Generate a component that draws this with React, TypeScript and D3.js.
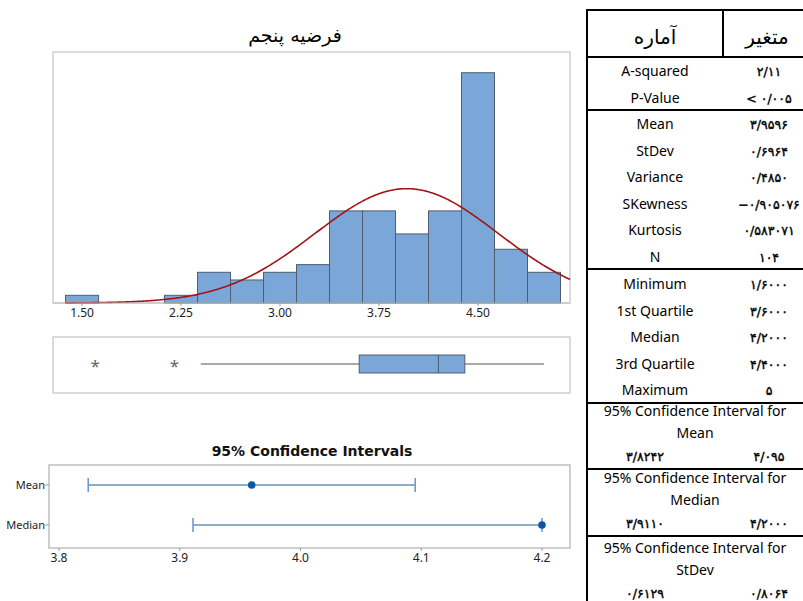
import React from 'react';
import * as d3 from 'd3';

// ---------- data ----------
const title = 'فرضیه پنجم';
const binCenters = [1.5, 1.75, 2.0, 2.25, 2.5, 2.75, 3.0, 3.25, 3.5, 3.75, 4.0, 4.25, 4.5, 4.75, 5.0];
const binCounts = [1, 0, 0, 1, 4, 3, 4, 5, 12, 12, 9, 12, 30, 7, 4];
const binWidth = 0.25;
const histTicks = [1.5, 2.25, 3.0, 3.75, 4.5];

const fitMean = 3.9596;
const fitSd = 0.6964;
const sampleN = 104;

const boxQ1 = 3.6;
const boxMedian = 4.2;
const boxQ3 = 4.4;
const whiskerLow = 2.4;
const whiskerHigh = 5.0;
const outliers = [1.6, 2.2];

const ciTitle = '95% Confidence Intervals';
const ciLabels = ['Mean', 'Median'];
const ciPoint = [3.9596, 4.2];
const ciLow = [3.8242, 3.911];
const ciHigh = [4.095, 4.2];
const ciTicks = [3.8, 3.9, 4.0, 4.1, 4.2];

const headerLeft = 'آماره';
const headerRight = 'متغیر';
const statGroups = [
  [['A-squared', '۲/۱۱'], ['P-Value', '< ۰/۰۰۵']],
  [['Mean', '۳/۹۵۹۶'], ['StDev', '۰/۶۹۶۴'], ['Variance', '۰/۴۸۵۰'], ['SKewness', '−۰/۹۰۵۰۷۶'], ['Kurtosis', '۰/۵۸۳۰۷۱'], ['N', '۱۰۴']],
  [['Minimum', '۱/۶۰۰۰'], ['1st Quartile', '۳/۶۰۰۰'], ['Median', '۴/۲۰۰۰'], ['3rd Quartile', '۴/۴۰۰۰'], ['Maximum', '۵']],
];
const ciTableTitles = ['Mean', 'Median', 'StDev'];
const ciTableLow = ['۳/۸۲۴۲', '۳/۹۱۱۰', '۰/۶۱۲۹'];
const ciTableHigh = ['۴/۰۹۵', '۴/۲۰۰۰', '۰/۸۰۶۴'];

// ---------- styles ----------
const axisFont = '"Noto Sans", "DejaVu Sans", sans-serif';
const tableFont = '"Noto Sans", "DejaVu Sans", sans-serif';
const digitFont = '"DejaVu Sans", sans-serif';
const frameColor = '#c4c4c4';
const barFill = '#7ba6d8';
const barStroke = '#4e5e70';

export default function App() {
  // histogram
  const hx = d3.scaleLinear().domain([1.28, 5.197]).range([53, 570]);
  const hy = d3.scaleLinear().domain([0, 32.7]).range([303, 52]);
  const curveXs = d3.range(1.375, 5.197, 0.01).concat([5.197]);
  const normal = (v: number) =>
    (sampleN * binWidth) / (fitSd * Math.sqrt(2 * Math.PI)) * Math.exp(-0.5 * ((v - fitMean) / fitSd) ** 2);
  const curvePath = d3
    .line<number>()
    .x((d) => hx(d))
    .y((d) => hy(normal(d)))(curveXs) as string;

  // boxplot
  const boxY = 364;
  const boxH = 18;

  // CI
  const cx = d3.scaleLinear().domain([3.8, 4.2]).range([59, 542]);
  const cy = d3.scalePoint<string>().domain(ciLabels).range([485, 525]);

  // table
  const tL = 587;
  const tR = 803;
  const tMid = 723;
  const colLeftC = (tL + tMid) / 2;
  const colRightC = 769;
  const groupStarts = [71, 124, 284];
  const step = 26.5;
  const dividers = [10, 57, 110, 269, 403, 469, 536];
  const ciBlockStarts = [411, 478, 548];

  const digitProps = {
    fontSize: 12.5,
    fontFamily: digitFont,
    fill: '#000',
    stroke: '#000',
    strokeWidth: 0.4,
    textAnchor: 'middle' as const,
  };

  return (
    <svg width={803} height={601} style={{ position: 'absolute', left: 0, top: 0, background: '#fff' }}>
      {/* ---------- title ---------- */}
      <text x={295} y={42} textAnchor="middle" fontSize={19} fontFamily={digitFont} fill="#000">
        {title}
      </text>

      {/* ---------- histogram ---------- */}
      <rect x={53} y={52} width={517} height={251} fill="none" stroke={frameColor} strokeWidth={1.2} />
      {binCenters.map((c, i) =>
        binCounts[i] > 0 ? (
          <rect
            key={i}
            x={hx(c - binWidth / 2)}
            y={hy(binCounts[i])}
            width={hx(c + binWidth / 2) - hx(c - binWidth / 2)}
            height={hy(0) - hy(binCounts[i])}
            fill={barFill}
            stroke={barStroke}
            strokeWidth={1}
          />
        ) : null
      )}
      <path d={curvePath} fill="none" stroke="#a31515" strokeWidth={1.6} />
      <line x1={53} x2={570} y1={303} y2={303} stroke={frameColor} strokeWidth={1.2} />
      {histTicks.map((t) => (
        <g key={t}>
          <line x1={hx(t)} x2={hx(t)} y1={303} y2={306} stroke="#999" />
          <text x={hx(t)} y={317} textAnchor="middle" fontSize={12} fontFamily={axisFont} fill="#222">
            {d3.format('.2f')(t)}
          </text>
        </g>
      ))}

      {/* ---------- boxplot ---------- */}
      <rect x={53} y={337} width={517} height={56} fill="none" stroke={frameColor} strokeWidth={1.2} />
      <line x1={hx(whiskerLow)} x2={hx(boxQ1)} y1={boxY} y2={boxY} stroke="#555" strokeWidth={1} />
      <line x1={hx(boxQ3)} x2={hx(whiskerHigh)} y1={boxY} y2={boxY} stroke="#555" strokeWidth={1} />
      <rect
        x={hx(boxQ1)}
        y={boxY - boxH / 2}
        width={hx(boxQ3) - hx(boxQ1)}
        height={boxH}
        fill={barFill}
        stroke={barStroke}
        strokeWidth={1}
      />
      <line x1={hx(boxMedian)} x2={hx(boxMedian)} y1={boxY - boxH / 2} y2={boxY + boxH / 2} stroke={barStroke} strokeWidth={1} />
      {outliers.map((o) => (
        <text key={o} x={hx(o)} y={boxY + 8} textAnchor="middle" fontSize={17} fontFamily={axisFont} fill="#666">
          *
        </text>
      ))}

      {/* ---------- CI plot ---------- */}
      <text x={312} y={456} textAnchor="middle" fontSize={14} fontWeight="bold" fontFamily={digitFont} fill="#111">
        {ciTitle}
      </text>
      <rect x={49} y={465} width={521} height={83} fill="none" stroke={frameColor} strokeWidth={1.6} />
      {ciLabels.map((l, i) => {
        const y = cy(l) as number;
        return (
          <g key={l}>
            <line x1={45} x2={49} y1={y} y2={y} stroke="#999" />
            <text x={45} y={y + 4} textAnchor="end" fontSize={11} fontFamily={axisFont} fill="#222">
              {l}
            </text>
            <line x1={cx(ciLow[i])} x2={cx(ciHigh[i])} y1={y} y2={y} stroke="#1f5b9e" strokeWidth={1.2} />
            <line x1={cx(ciLow[i])} x2={cx(ciLow[i])} y1={y - 7} y2={y + 7} stroke="#6a9ad6" strokeWidth={1.6} />
            <line x1={cx(ciHigh[i])} x2={cx(ciHigh[i])} y1={y - 7} y2={y + 7} stroke="#6a9ad6" strokeWidth={1.6} />
            <circle cx={cx(ciPoint[i])} cy={y} r={3.8} fill="#0b57a4" />
          </g>
        );
      })}
      {ciTicks.map((t) => (
        <g key={t}>
          <line x1={cx(t)} x2={cx(t)} y1={548} y2={551} stroke="#999" />
          <text x={cx(t)} y={562} textAnchor="middle" fontSize={12} fontFamily={axisFont} fill="#222">
            {d3.format('.1f')(t)}
          </text>
        </g>
      ))}

      {/* ---------- table ---------- */}
      <line x1={tL} x2={tL} y1={9} y2={601} stroke="#000" strokeWidth={2} />
      <line x1={tMid} x2={tMid} y1={10} y2={57} stroke="#000" strokeWidth={2} />
      {dividers.map((y) => (
        <line key={y} x1={tL - 1} x2={tR} y1={y} y2={y} stroke="#000" strokeWidth={2} />
      ))}
      <text x={colLeftC} y={44} textAnchor="middle" fontSize={20} fontFamily={digitFont} fill="#000">
        {headerLeft}
      </text>
      <text x={767} y={44} textAnchor="middle" fontSize={20} fontFamily={digitFont} fill="#000">
        {headerRight}
      </text>
      {statGroups.map((g, gi) =>
        g.map((row, ri) => {
          const y = groupStarts[gi] + ri * step;
          return (
            <g key={row[0]}>
              <text x={colLeftC} y={y + 5} textAnchor="middle" fontSize={14} fontFamily={tableFont} fill="#000">
                {row[0]}
              </text>
              <text x={colRightC} y={y + 5} {...digitProps}>
                {row[1]}
              </text>
            </g>
          );
        })
      )}
      {ciTableTitles.map((t, i) => {
        const y0 = ciBlockStarts[i];
        return (
          <g key={t}>
            <text x={(tL + tR) / 2} y={y0 + 5} textAnchor="middle" fontSize={14} fontFamily={tableFont} fill="#000">
              95% Confidence Interval for
            </text>
            <text x={(tL + tR) / 2} y={y0 + 27} textAnchor="middle" fontSize={14} fontFamily={tableFont} fill="#000">
              {t}
            </text>
            <text x={645} y={y0 + 50} {...digitProps}>
              {ciTableLow[i]}
            </text>
            <text x={colRightC} y={y0 + 50} {...digitProps}>
              {ciTableHigh[i]}
            </text>
          </g>
        );
      })}
    </svg>
  );
}
